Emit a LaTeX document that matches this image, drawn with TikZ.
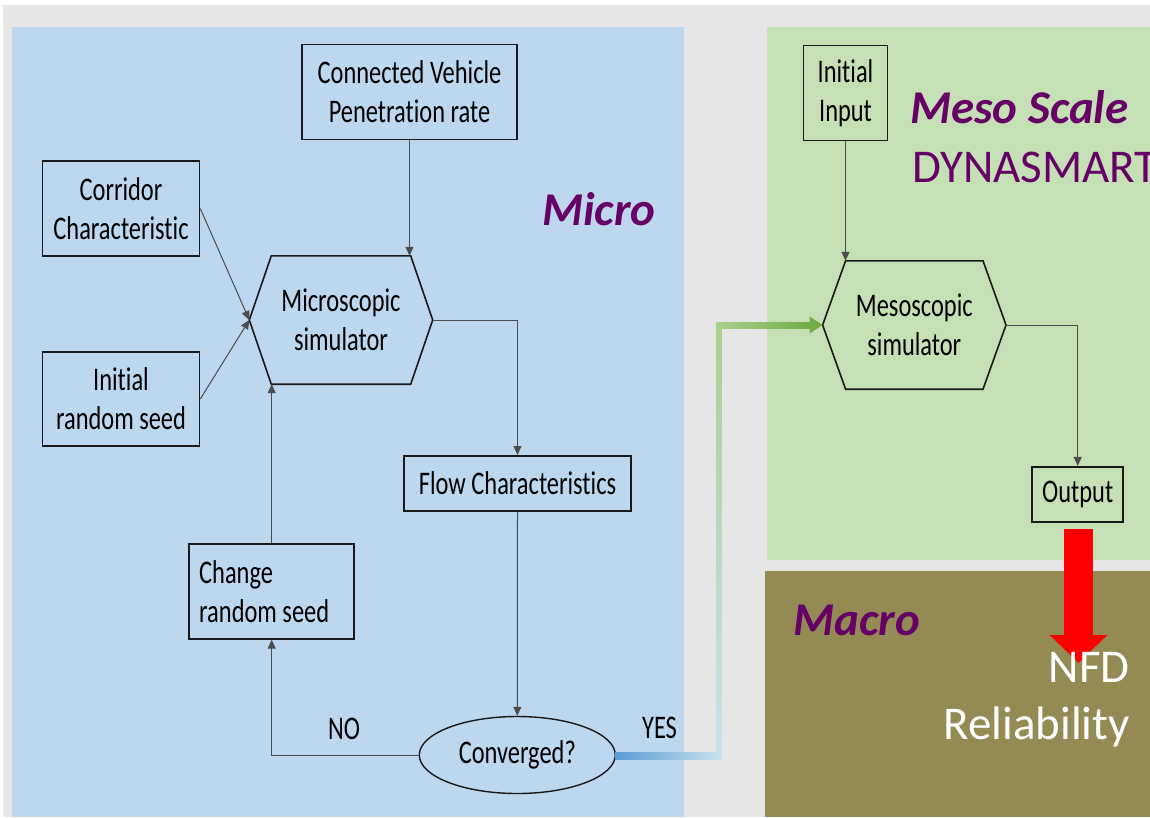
\documentclass[tikz,border=0pt]{standalone}
\usepackage{fontspec}
\setmainfont{Carlito}
\newfontfamily\boxfont{Carlito}[FakeStretch=0.74, Ligatures=NoCommon]
\usetikzlibrary{arrows.meta, calc, shapes.geometric}

\definecolor{microbg}{HTML}{BDD7EE}
\definecolor{mesobg}{HTML}{C5E0B4}
\definecolor{macrobg}{HTML}{948A54}
\definecolor{pagegrey}{HTML}{E7E6E6}
\definecolor{titlepurple}{HTML}{660066}
\definecolor{yesblue}{HTML}{5B9BD5}
\definecolor{yespale}{HTML}{C9E1EE}
\definecolor{yesmint}{HTML}{A9D18E}
\definecolor{yesgreen}{HTML}{70AD47}

\begin{document}
\begin{tikzpicture}[x=1pt, y=-1pt,
    boxtext/.style={font=\boxfont\fontsize{33}{39}\selectfont},
    box/.style={boxtext, draw=black!90, line width=1.6pt, inner sep=0pt, align=center},
    hexlabel/.style={boxtext, inner sep=0pt, align=center, minimum height=128pt},
    hexline/.style={draw=black!90, line width=1.6pt, line join=miter},
    conn/.style={draw=black!70, line width=1pt, -{Triangle[length=9pt,width=8pt]}},
    title/.style={inner sep=0pt, anchor=base west, text=titlepurple, font=\fontsize{47}{57}\selectfont},
    bigtitle/.style={title, font=\fontsize{47}{57}\selectfont\bfseries\itshape},
    lbl/.style={boxtext, inner sep=0pt, anchor=base}]
    \useasboundingbox (0,0) rectangle (1150,817);
    \clip (0,0) rectangle (1150,817);
    % Panels
    \fill[white] (0,0) rectangle (1150,817);
    \fill[pagegrey] (3,5) rectangle (1150,817);
    \fill[microbg] (12,27) rectangle (684,817);
    \fill[mesobg] (767,27) rectangle (1150,560);
    \fill[macrobg] (765,571) rectangle (1150,817);
    % Micro loop
    \node[box, minimum width=215pt, minimum height=95pt] (cv) at (409.5,92) {Connected Vehicle\\Penetration rate};
    \node[box, minimum width=157pt, minimum height=95pt] (corr) at (121,208.5) {Corridor\\Characteristic};
    \node[box, minimum width=157pt, minimum height=94pt] (seed) at (121,399) {Initial\\random seed};
    \node[hexlabel, minimum width=139pt] (micro) at (341,320) {Microscopic\\simulator};
    \coordinate (micro-l) at ($(micro.west)+(-22,0)$);
    \coordinate (micro-r) at ($(micro.east)+(22,0)$);
    \draw[hexline] (micro.north west) -- (micro.north east) -- (micro-r) -- (micro.south east)
        -- (micro.south west) -- (micro-l) -- cycle;
    \node[box, minimum width=227pt, minimum height=55pt] (flow) at (517.5,483.3) {Flow Characteristics};
    \node[box, minimum width=165pt, minimum height=95pt, align=flush left, text width=145pt] (chg) at (271.7,591.4) {Change\\random seed};
    \node[box, ellipse, line width=1.4pt, minimum width=196pt, minimum height=77pt] (conv) at (517.3,755) {Converged?};
    \draw[conn] (cv.south) -- (cv.south |- micro.north);
    \draw[conn] (corr.east) -- (micro-l);
    \draw[conn] (seed.east) -- (micro-l);
    \draw[conn] (micro-r) -| (flow.north);
    \draw[conn] (flow.south) -- (conv.north);
    \draw[conn] (conv.west) -| (chg.south);
    \draw[conn] (chg.north) -- (chg.north |- micro.south);
    \node[lbl] at (344,739) {NO};
    \node[lbl] at (659.5,738) {YES};
    % Meso side
    \node[box, minimum width=84pt, minimum height=95pt] (init) at (845.5,93) {Initial\\Input};
    \node[hexlabel, minimum width=137pt] (meso) at (914.3,325) {Mesoscopic\\simulator};
    \coordinate (meso-l) at ($(meso.west)+(-23,0)$);
    \coordinate (meso-r) at ($(meso.east)+(23,0)$);
    \draw[hexline] (meso.north west) -- (meso.north east) -- (meso-r) -- (meso.south east)
        -- (meso.south west) -- (meso-l) -- cycle;
    \node[box, minimum width=91pt, minimum height=55pt] (out) at (1077.7,494.2) {Output};
    \draw[conn] (init.south) -- (init.south |- meso.north);
    \draw[conn] (meso-r) -| (out.north);
    % YES link, blue into green
    \coordinate (yesdn) at (719,756);
    \coordinate (yesup) at (719,325.5);
    \shade[left color=yesblue, right color=yespale] ($(conv.east)+(-1,-3)$) rectangle ($(yesdn)+(2.5,3)$);
    \shade[bottom color=yespale, top color=yesmint] ($(yesdn)+(-2.5,-3)$) rectangle ($(yesup)+(2.5,-3)$);
    \shade[left color=yesmint, right color=yesgreen] ($(yesup)+(-2.5,-3)$) rectangle ($(meso-l)+(-13,3)$);
    \fill[yesgreen] (meso-l) -- ++(-13,-8.5) -- ++(0,17) -- cycle;
    % Macro
    \coordinate (nfdtip) at (1078.5,663);
    \draw[red, line width=29pt, -{Triangle[length=28pt,width=56pt]}] ($(out.south)+(0.8,6)$) -- (nfdtip);
    % Titles
    \node[bigtitle] at (542,225) {Micro};
    \node[bigtitle] at (910,123) {Meso Scale};
    \node[title] at (912,182) {DYNASMART};
    \node[bigtitle] at (793,635) {Macro};
    \node[title, anchor=base east, text=white] at (1130,682) {NFD};
    \node[title, anchor=base east, text=white] at (1130,739) {Reliability};
\end{tikzpicture}
\end{document}
